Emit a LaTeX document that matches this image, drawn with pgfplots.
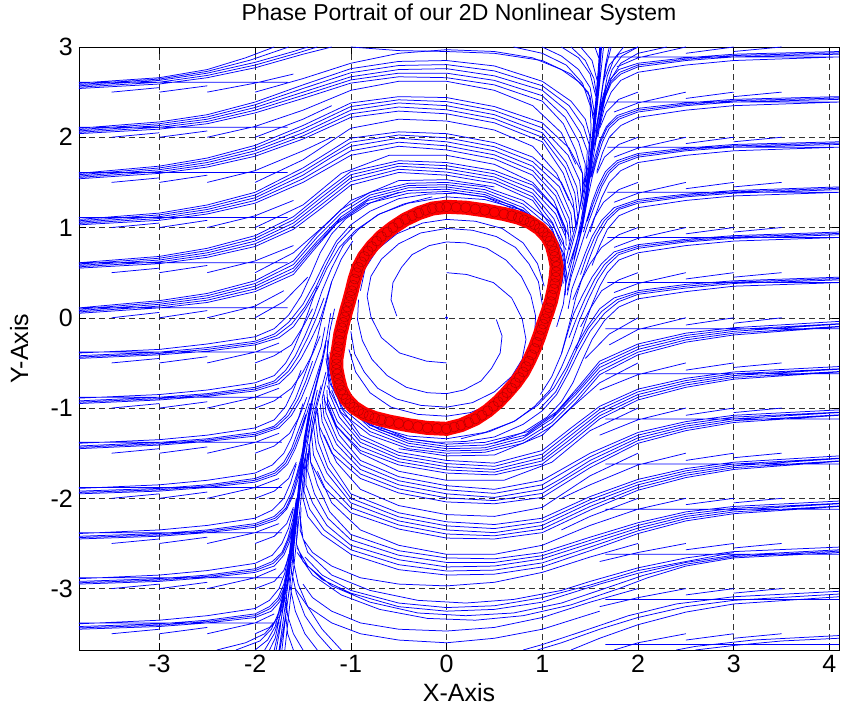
\documentclass[border=0pt]{standalone}
\usepackage{fontspec}
\setmainfont{Liberation Sans}
\usepackage{pgfplots}
\pgfplotsset{compat=1.18}
\usetikzlibrary{calc}
\pgfplotsset{traj/.style={blue, line width=0.75pt, mark=none}}
\begin{document}
\begin{tikzpicture}
\begin{axis}[
  width=760pt, height=603pt, scale only axis,
  xmin=-3.84, xmax=4.1, ymin=-3.68, ymax=3.0,
  xtick={-3,-2,-1,0,1,2,3,4}, xticklabels={-3,-2,-1,0,1,2,3,4},
  ytick={-3,-2,-1,0,1,2,3}, yticklabels={-3,-2,-1,0,1,2,3},
  tick align=inside, major tick length=7pt,
  tick style={black, line width=0.6pt},
  axis line style={black, line width=0.7pt},
  grid=major, major grid style={black!80, dash pattern=on 6pt off 4pt, line width=0.5pt},
  xticklabel style={font=\fontsize{25}{25}\selectfont, anchor=base, yshift=-23pt, inner sep=0pt},
  yticklabel style={font=\fontsize{25}{25}\selectfont, anchor=east, xshift=-6pt, inner sep=0pt},
  title={Phase Portrait of our 2D Nonlinear System},
  title style={at={(axis description cs:0.5,1.0332)}, anchor=base, font=\fontsize{23}{25}\selectfont, inner sep=0pt},
  xlabel={X-Axis},
  xlabel style={at={(axis description cs:0.5,-0.0846)}, anchor=base, font=\fontsize{25}{25}\selectfont, inner sep=0pt},
  ylabel={Y-Axis},
  ylabel style={at={(axis description cs:-0.067,0.5)}, anchor=base, font=\fontsize{25}{25}\selectfont, inner sep=0pt},
  unbounded coords=jump,
]
% ---------------- Family A (upper left) ----------------
\addplot[traj] coordinates {(-3.84,2.6)(-3,2.66)(-2.5,2.75)(-2.1,2.88)(-1.8,3) (nan,nan)
(-3.84,2.57)(-3,2.63)(-2.5,2.71)(-2,2.83)(-1.6,2.95)(-1.45,3) (nan,nan)
(-3.84,2.54)(-3,2.59)(-2.5,2.66)(-2,2.77)(-1.5,2.92)(-1.2,3) (nan,nan)
(-3.84,2.585)(-3,2.645)(-2.5,2.73)(-2.05,2.855)(-1.65,3) (nan,nan)
(-3.84,2.555)(-3,2.61)(-2.5,2.685)(-2,2.8)(-1.55,2.935)(-1.35,3) (nan,nan)
(-3.84,2.61)(-1.66,2.61) (nan,nan)
(-3.5,2.5)(-3,2.55) (nan,nan) (-3,2.5)(-2.5,2.57) (nan,nan) (-2.5,2.5)(-2,2.6)(-1.6,2.7) (nan,nan)
(-2,2.5)(-1.5,2.65)(-1,2.82)(-0.5,2.93)(0,2.97)(0.5,2.95)(0.9,2.88)(1.2,2.75)(1.4,2.6)(1.5,2.45)(1.53,2.2)};
\addplot[traj] coordinates {(-3.84,2.1)(-3,2.17)(-2.5,2.25)(-2,2.39)(-1.5,2.58)(-1,2.76)(-0.5,2.84)(0,2.85)(0.5,2.79)(1,2.62)(1.3,2.4)(1.45,2.2)(1.5,2)(1.49,1.8) (nan,nan)
(-3.84,2.07)(-3,2.13)(-2.5,2.2)(-2,2.33)(-1.5,2.5)(-1,2.67)(-0.5,2.75)(0,2.76)(0.5,2.68)(1,2.52)(1.25,2.3)(1.4,2.05)(1.47,1.85)(1.46,1.6)(1.43,1.4)(1.39,1.2)(1.35,1) (nan,nan)
(-3.84,2.04)(-3,2.09)(-2.5,2.15)(-2,2.27)(-1.5,2.43)(-1,2.6)(-0.5,2.67)(0,2.66)(0.5,2.58)(1,2.4)(1.22,2.15)(1.35,1.85)(1.42,1.6)(1.42,1.4)(1.38,1.15)(1.33,0.95)(1.28,0.75) (nan,nan)
(-3.84,2.085)(-3,2.15)(-2.5,2.225)(-2,2.36)(-1.5,2.54)(-1,2.715)(-0.5,2.795)(0,2.805)(0.5,2.735)(1,2.57)(1.28,2.35)(1.43,2.12)(1.49,1.92)(1.48,1.7)(1.45,1.5) (nan,nan)
(-3.84,2.055)(-3,2.11)(-2.5,2.175)(-2,2.3)(-1.5,2.465)(-1,2.635)(-0.5,2.71)(0,2.71)(0.5,2.63)(1,2.46)(1.24,2.22)(1.38,1.95)(1.45,1.7)(1.44,1.5) (nan,nan)
(-3.84,2.11)(-1.66,2.11) (nan,nan)
(-3.5,2)(-3,2.05) (nan,nan) (-3,2)(-2.5,2.07) (nan,nan)
(-2.5,2)(-2,2.12)(-1.5,2.3)(-1,2.52)(-0.5,2.62)(0,2.62)(0.5,2.52)(0.9,2.35)(1.2,2.05)(1.35,1.7) (nan,nan)
(-2,2)(-1.5,2.2)(-1.2,2.35)};
\addplot[traj] coordinates {(-3.84,1.6)(-3,1.68)(-2.5,1.77)(-2,1.91)(-1.5,2.13)(-1,2.38)(-0.5,2.45)(0,2.44)(0.5,2.34)(1,2.16)(1.28,1.88)(1.42,1.6)(1.44,1.4) (nan,nan)
(-3.84,1.57)(-3,1.64)(-2.5,1.72)(-2,1.85)(-1.5,2.05)(-1,2.3)(-0.5,2.38)(0,2.35)(0.5,2.25)(1,2.05)(1.25,1.72)(1.36,1.45)(1.39,1.2)(1.36,1)(1.31,0.8)(1.26,0.6) (nan,nan)
(-3.84,1.54)(-3,1.6)(-2.5,1.67)(-2,1.79)(-1.5,1.98)(-1,2.22)(-0.5,2.29)(0,2.26)(0.5,2.16)(1,1.95)(1.22,1.6)(1.32,1.3)(1.35,1.05) (nan,nan)
(-3.84,1.585)(-3,1.66)(-2.5,1.745)(-2,1.88)(-1.5,2.09)(-1,2.34)(-0.5,2.415)(0,2.395)(0.5,2.295)(1,2.105)(1.27,1.8)(1.39,1.52)(1.41,1.3) (nan,nan)
(-3.84,1.555)(-3,1.62)(-2.5,1.695)(-2,1.82)(-1.5,2.015)(-1,2.26)(-0.5,2.335)(0,2.305)(0.5,2.205)(1,2)(1.24,1.66)(1.34,1.38)(1.37,1.12) (nan,nan)
(-3.84,1.61)(-1.66,1.61) (nan,nan)
(-3.5,1.5)(-3,1.55) (nan,nan) (-3,1.5)(-2.5,1.58) (nan,nan) (-2.5,1.5)(-2,1.63)(-1.5,1.85)(-1.2,2) (nan,nan)
(-2,1.5)(-1.5,1.75)(-1,2.1)(-0.5,2.2)(0,2.18)(0.5,2.08)(0.9,1.9)(1.15,1.6)(1.28,1.3)};
\addplot[traj] coordinates {(-3.84,1.09)(-3,1.16)(-2.5,1.25)(-2,1.39)(-1.5,1.66)(-1,1.99)(-0.5,2.06)(0,2.04)(0.5,1.94)(0.9,1.78)(1.2,1.5)(1.33,1.2)(1.35,1) (nan,nan)
(-3.84,1.06)(-3,1.12)(-2.5,1.2)(-2,1.33)(-1.5,1.58)(-1.2,1.78)(-1,1.9)(-0.5,1.99)(0,1.95)(0.5,1.85)(0.9,1.68)(1.15,1.4)(1.28,1.1)(1.3,0.9)(1.26,0.7)(1.21,0.5) (nan,nan)
(-3.84,1.03)(-3,1.08)(-2.5,1.15)(-2,1.27)(-1.5,1.5)(-1,1.8)(-0.5,1.9)(0,1.86)(0.5,1.76)(0.9,1.58)(1.12,1.3)(1.24,1)(1.25,0.8) (nan,nan)
(-3.84,1.075)(-3,1.14)(-2.5,1.225)(-2,1.36)(-1.5,1.62)(-1,1.945)(-0.5,2.025)(0,1.995)(0.5,1.895)(0.9,1.73)(1.18,1.45)(1.3,1.15)(1.32,0.95) (nan,nan)
(-3.84,1.045)(-3,1.1)(-2.5,1.175)(-2,1.3)(-1.5,1.54)(-1,1.85)(-0.5,1.945)(0,1.905)(0.5,1.805)(0.9,1.63)(1.14,1.35)(1.26,1.05)(1.28,0.85) (nan,nan)
(-3.84,1.11)(-1.66,1.11) (nan,nan)
(-3.5,1)(-3,1.05) (nan,nan) (-3,1)(-2.5,1.08) (nan,nan) (-2.5,1)(-2,1.13)(-1.6,1.3) (nan,nan)
(-2,1)(-1.5,1.25)(-1.1,1.6)(-0.6,1.8)(0,1.8)(0.5,1.7)(0.9,1.5)(1.15,1.2)(1.24,0.95)};
\addplot[traj] coordinates {(-3.84,0.61)(-3,0.68)(-2.5,0.77)(-2,0.91)(-1.6,1.12)(-1.3,1.38)(-1,1.62)(-0.5,1.74)(0,1.72)(0.5,1.63)(0.9,1.47)(1.15,1.2)(1.28,0.9) (nan,nan)
(-3.84,0.58)(-3,0.64)(-2.5,0.72)(-2,0.85)(-1.6,1.05)(-1.3,1.3)(-1,1.55)(-0.5,1.68)(0,1.65)(0.5,1.56)(0.9,1.38)(1.12,1.1)(1.22,0.85)(1.24,0.6)(1.2,0.35) (nan,nan)
(-3.84,0.55)(-3,0.6)(-2.5,0.67)(-2,0.79)(-1.6,0.98)(-1.3,1.22)(-1,1.47)(-0.5,1.61)(0,1.58)(0.5,1.49)(0.9,1.3)(1.1,1)(1.18,0.75) (nan,nan)
(-3.84,0.595)(-3,0.66)(-2.5,0.745)(-2,0.88)(-1.6,1.085)(-1.3,1.34)(-1,1.585)(-0.5,1.71)(0,1.685)(0.5,1.595)(0.9,1.425)(1.14,1.15)(1.25,0.88) (nan,nan)
(-3.84,0.565)(-3,0.62)(-2.5,0.695)(-2,0.82)(-1.6,1.015)(-1.3,1.26)(-1,1.51)(-0.5,1.645)(0,1.615)(0.5,1.525)(0.9,1.34)(1.11,1.05)(1.2,0.8) (nan,nan)
(-3.84,0.61)(-1.66,0.61) (nan,nan)
(-3.5,0.5)(-3,0.55) (nan,nan) (-3,0.5)(-2.5,0.58) (nan,nan) (-2.5,0.5)(-2,0.63)(-1.6,0.8) (nan,nan)
(-2,0.5)(-1.6,0.72)(-1.3,1)(-1,1.3)(-0.5,1.52)(0,1.53)(0.5,1.45)};
\addplot[traj] coordinates {(-3.84,0.11)(-3,0.19)(-2.5,0.27)(-2,0.41)(-1.6,0.63)(-1.35,0.94)(-1.1,1.2)(-0.8,1.39)(-0.4,1.49)(0,1.5)(0.4,1.45)(0.8,1.3)(1.1,1.05)(1.25,0.75) (nan,nan)
(-3.84,0.08)(-3,0.15)(-2.5,0.22)(-2,0.35)(-1.6,0.55)(-1.35,0.85)(-1.1,1.12)(-0.8,1.33)(-0.4,1.44)(0,1.45)(0.4,1.39)(0.8,1.22)(1.05,0.97)(1.2,0.68)(1.25,0.42)(1.22,0.15)(1.15,-0.1) (nan,nan)
(-3.84,0.05)(-3,0.11)(-2.5,0.17)(-2,0.29)(-1.6,0.48)(-1.38,0.76)(-1.15,1.04)(-0.85,1.26)(-0.4,1.38)(0,1.4)(0.4,1.34)(0.8,1.16)(1.02,0.92)(1.16,0.62)(1.2,0.35) (nan,nan)
(-3.84,0.095)(-3,0.17)(-2.5,0.245)(-2,0.38)(-1.6,0.59)(-1.35,0.895)(-1.1,1.16)(-0.8,1.36)(-0.4,1.465)(0,1.475)(0.4,1.42)(0.8,1.26)(1.08,1.01)(1.22,0.72)(1.26,0.45) (nan,nan)
(-3.84,0.065)(-3,0.13)(-2.5,0.195)(-2,0.32)(-1.6,0.515)(-1.37,0.8)(-1.12,1.08)(-0.82,1.3)(-0.4,1.41)(0,1.425)(0.4,1.365)(0.8,1.19)(1.04,0.95)(1.18,0.65)(1.22,0.38) (nan,nan)
(-3.84,0.11)(-1.66,0.11) (nan,nan)
(-3.5,0)(-3,0.06) (nan,nan) (-3,0)(-2.5,0.08) (nan,nan) (-2.5,0)(-2,0.13)(-1.7,0.3) (nan,nan)
(-2,0)(-1.7,0.18)(-1.45,0.45)};
% ---------------- Family B (lower left) ----------------
\addplot[traj] coordinates {(-3.84,-0.39)(-3,-0.35)(-2.5,-0.29)(-2,-0.21)(-1.8,-0.12)(-1.65,0.03)(-1.52,0.24)(-1.42,0.47)(-1.32,0.72)(-1.2,0.93)(-1.05,1.1)(-0.8,1.27)(-0.5,1.39) (nan,nan)
(-3.84,-0.42)(-3,-0.38)(-2.5,-0.33)(-2,-0.26)(-1.8,-0.18)(-1.65,-0.05)(-1.5,0.15)(-1.38,0.38)(-1.27,0.62)(-1.15,0.85)(-1,1.03)(-0.8,1.18)(-0.5,1.32)(-0.2,1.37)(0.1,1.38)(0.4,1.34)(0.7,1.24)(0.95,1.07)(1.12,0.86)(1.21,0.63)(1.24,0.4) (nan,nan)
(-3.84,-0.45)(-3,-0.41)(-2.5,-0.37)(-2,-0.3)(-1.75,-0.22)(-1.6,-0.1)(-1.47,0.1)(-1.35,0.32)(-1.25,0.55)(-1.12,0.78)(-0.95,0.97)(-0.7,1.15)(-0.4,1.27)(0,1.34)(0.4,1.31)(0.8,1.19)(1.05,1)(1.2,0.75)(1.25,0.5)(1.24,0.25) (nan,nan)
(-3.84,-0.435)(-3,-0.395)(-2.5,-0.35)(-2,-0.28)(-1.78,-0.2)(-1.62,-0.07)(-1.48,0.12)(-1.36,0.35)(-1.26,0.58)(-1.14,0.82)(-0.98,1) (nan,nan)
(-3.84,-0.38)(-1.72,-0.38) (nan,nan)
(-3.5,-0.5)(-3,-0.45) (nan,nan) (-3,-0.5)(-2.5,-0.43) (nan,nan) (-2.5,-0.5)(-2,-0.38)(-1.75,-0.28) (nan,nan)
(-2,-0.5)(-1.8,-0.42)(-1.62,-0.3)(-1.5,-0.1)(-1.4,0.1)};
\addplot[traj] coordinates {(-3.84,-0.89)(-3,-0.85)(-2.5,-0.8)(-2,-0.72)(-1.8,-0.64)(-1.68,-0.5)(-1.6,-0.35)(-1.52,-0.15)(-1.44,0.08)(-1.35,0.35) (nan,nan)
(-3.84,-0.92)(-3,-0.88)(-2.5,-0.84)(-2,-0.77)(-1.8,-0.7)(-1.68,-0.58)(-1.58,-0.42)(-1.48,-0.2)(-1.38,0.05)(-1.3,0.3)(-1.2,0.55)(-1.08,0.8)(-0.92,0.98)(-0.72,1.14)(-0.45,1.26)(-0.15,1.34) (nan,nan)
(-3.84,-0.95)(-3,-0.91)(-2.5,-0.87)(-2,-0.81)(-1.75,-0.73)(-1.62,-0.6)(-1.52,-0.45)(-1.42,-0.25)(-1.33,-0.05)(-1.27,0.15)(-1.2,0.4)(-1.1,0.65)(-0.98,0.85) (nan,nan)
(-3.84,-0.935)(-3,-0.895)(-2.5,-0.855)(-2,-0.79)(-1.78,-0.715)(-1.65,-0.59)(-1.55,-0.43)(-1.45,-0.22)(-1.36,0)(-1.28,0.22) (nan,nan)
(-3.84,-0.88)(-1.72,-0.88) (nan,nan)
(-3.5,-1)(-3,-0.95) (nan,nan) (-3,-1)(-2.5,-0.93) (nan,nan) (-2.5,-1)(-2,-0.88)(-1.75,-0.78) (nan,nan)
(-2,-1)(-1.8,-0.92)(-1.62,-0.78)(-1.5,-0.6)(-1.4,-0.4)(-1.32,-0.2)};
\addplot[traj] coordinates {(-3.84,-1.39)(-3,-1.35)(-2.5,-1.3)(-2,-1.22)(-1.8,-1.13)(-1.68,-0.98)(-1.6,-0.8)(-1.52,-0.58) (nan,nan)
(-3.84,-1.42)(-3,-1.38)(-2.5,-1.34)(-2,-1.27)(-1.8,-1.2)(-1.68,-1.08)(-1.58,-0.9)(-1.5,-0.68)(-1.42,-0.45)(-1.35,-0.22)(-1.3,0)(-1.25,0.2)(-1.2,0.4) (nan,nan)
(-3.84,-1.45)(-3,-1.41)(-2.5,-1.37)(-2,-1.31)(-1.75,-1.22)(-1.62,-1.08)(-1.52,-0.9)(-1.45,-0.72)(-1.38,-0.52)(-1.31,-0.32)(-1.27,-0.1) (nan,nan)
(-3.84,-1.435)(-3,-1.395)(-2.5,-1.355)(-2,-1.29)(-1.78,-1.21)(-1.65,-1.08)(-1.55,-0.9)(-1.47,-0.7)(-1.4,-0.48) (nan,nan)
(-3.84,-1.38)(-1.72,-1.38) (nan,nan)
(-3.5,-1.5)(-3,-1.45) (nan,nan) (-3,-1.5)(-2.5,-1.43) (nan,nan) (-2.5,-1.5)(-2,-1.38)(-1.75,-1.28) (nan,nan)
(-2,-1.5)(-1.8,-1.42)(-1.64,-1.28)(-1.54,-1.1)(-1.46,-0.88)};
\addplot[traj] coordinates {(-3.84,-1.89)(-3,-1.85)(-2.5,-1.8)(-2,-1.72)(-1.82,-1.63)(-1.7,-1.5)(-1.62,-1.33)(-1.55,-1.12)(-1.5,-0.95) (nan,nan)
(-3.84,-1.92)(-3,-1.89)(-2.5,-1.85)(-2,-1.78)(-1.8,-1.7)(-1.7,-1.6)(-1.62,-1.45)(-1.55,-1.25)(-1.48,-1.05)(-1.42,-0.85)(-1.36,-0.65)(-1.3,-0.45)(-1.26,-0.25) (nan,nan)
(-3.84,-1.95)(-3,-1.92)(-2.5,-1.88)(-2,-1.82)(-1.78,-1.74)(-1.66,-1.62)(-1.58,-1.45)(-1.52,-1.28)(-1.47,-1.1)(-1.43,-0.95) (nan,nan)
(-3.84,-1.935)(-3,-1.905)(-2.5,-1.865)(-2,-1.8)(-1.79,-1.72)(-1.68,-1.61)(-1.6,-1.45)(-1.53,-1.26)(-1.47,-1.07) (nan,nan)
(-3.84,-1.88)(-1.72,-1.88) (nan,nan)
(-3.5,-2)(-3,-1.95) (nan,nan) (-3,-2)(-2.5,-1.93) (nan,nan) (-2.5,-2)(-2,-1.88)(-1.75,-1.78) (nan,nan)
(-2,-2)(-1.8,-1.92)(-1.65,-1.78)(-1.57,-1.6)};
\addplot[traj] coordinates {(-3.84,-2.39)(-3,-2.35)(-2.5,-2.3)(-2,-2.22)(-1.82,-2.13)(-1.7,-2)(-1.63,-1.83)(-1.57,-1.62) (nan,nan)
(-3.84,-2.42)(-3,-2.39)(-2.5,-2.35)(-2,-2.28)(-1.8,-2.2)(-1.7,-2.1)(-1.63,-1.95)(-1.57,-1.75)(-1.52,-1.55)(-1.48,-1.35)(-1.44,-1.15)(-1.4,-0.95) (nan,nan)
(-3.84,-2.45)(-3,-2.42)(-2.5,-2.38)(-2,-2.32)(-1.78,-2.24)(-1.67,-2.12)(-1.6,-1.96)(-1.55,-1.78)(-1.51,-1.6)(-1.47,-1.4)(-1.43,-1.2)(-1.39,-1)(-1.35,-0.8) (nan,nan)
(-3.84,-2.435)(-3,-2.405)(-2.5,-2.365)(-2,-2.3)(-1.79,-2.22)(-1.68,-2.11)(-1.61,-1.95)(-1.56,-1.76)(-1.51,-1.56) (nan,nan)
(-3.84,-2.38)(-1.72,-2.38) (nan,nan)
(-3.5,-2.5)(-3,-2.45) (nan,nan) (-3,-2.5)(-2.5,-2.43) (nan,nan) (-2.5,-2.5)(-2,-2.38)(-1.75,-2.28) (nan,nan)
(-2,-2.5)(-1.8,-2.42)(-1.67,-2.28)(-1.6,-2.1)};
\addplot[traj] coordinates {(-3.84,-2.89)(-3,-2.85)(-2.5,-2.8)(-2,-2.72)(-1.82,-2.63)(-1.72,-2.5)(-1.65,-2.33)(-1.6,-2.12) (nan,nan)
(-3.84,-2.92)(-3,-2.89)(-2.5,-2.85)(-2,-2.78)(-1.82,-2.7)(-1.72,-2.6)(-1.66,-2.45)(-1.61,-2.25)(-1.57,-2.05)(-1.53,-1.85)(-1.5,-1.65)(-1.46,-1.45) (nan,nan)
(-3.84,-2.95)(-3,-2.92)(-2.5,-2.88)(-2,-2.82)(-1.8,-2.75)(-1.7,-2.63)(-1.64,-2.48)(-1.6,-2.3)(-1.56,-2.1)(-1.53,-1.9)(-1.5,-1.7)(-1.47,-1.5)(-1.44,-1.3)(-1.41,-1.1) (nan,nan)
(-3.84,-2.935)(-3,-2.905)(-2.5,-2.865)(-2,-2.8)(-1.81,-2.72)(-1.71,-2.61)(-1.65,-2.46)(-1.6,-2.27)(-1.56,-2.07) (nan,nan)
(-3.84,-2.88)(-1.72,-2.88) (nan,nan)
(-3.5,-3)(-3,-2.95) (nan,nan) (-3,-3)(-2.5,-2.93) (nan,nan) (-2.5,-3)(-2,-2.88)(-1.78,-2.78) (nan,nan)
(-2,-3)(-1.8,-2.92)(-1.7,-2.8)(-1.64,-2.62)};
\addplot[traj] coordinates {(-3.84,-3.39)(-3,-3.35)(-2.5,-3.3)(-2,-3.22)(-1.85,-3.13)(-1.75,-3)(-1.69,-2.83)(-1.65,-2.62) (nan,nan)
(-3.84,-3.42)(-3,-3.39)(-2.5,-3.35)(-2,-3.28)(-1.85,-3.2)(-1.76,-3.1)(-1.7,-2.95)(-1.66,-2.75)(-1.62,-2.55)(-1.59,-2.35)(-1.56,-2.15)(-1.53,-1.95) (nan,nan)
(-3.84,-3.45)(-3,-3.42)(-2.5,-3.38)(-2,-3.32)(-1.83,-3.25)(-1.74,-3.14)(-1.69,-3)(-1.65,-2.8)(-1.62,-2.6)(-1.59,-2.4)(-1.56,-2.2) (nan,nan)
(-3.84,-3.435)(-3,-3.405)(-2.5,-3.365)(-2,-3.3)(-1.84,-3.22)(-1.75,-3.12)(-1.69,-2.97)(-1.65,-2.77)(-1.61,-2.57) (nan,nan)
(-3.84,-3.38)(-1.74,-3.38) (nan,nan)
(-3.5,-3.5)(-3,-3.45) (nan,nan) (-3,-3.5)(-2.5,-3.43) (nan,nan) (-2.5,-3.5)(-2,-3.38)(-1.8,-3.28) (nan,nan)
(-2,-3.5)(-1.85,-3.43)(-1.74,-3.3)(-1.69,-3.12)};
% lower separatrix bundle
\addplot[traj] coordinates {(-2.4,-3.68)(-2.1,-3.6)(-1.9,-3.5)(-1.8,-3.38)(-1.73,-3.2)(-1.68,-3)(-1.64,-2.8)(-1.61,-2.6) (nan,nan)
(-2.2,-3.68)(-1.95,-3.58)(-1.83,-3.45)(-1.76,-3.28)(-1.71,-3.08)(-1.67,-2.85) (nan,nan)
(-2,-3.68)(-1.87,-3.57)(-1.79,-3.42)(-1.74,-3.22)(-1.7,-3)(-1.66,-2.75)(-1.63,-2.5)(-1.6,-2.25)(-1.57,-2) (nan,nan)
(-1.85,-3.68)(-1.79,-3.55)(-1.75,-3.35)(-1.72,-3.15)(-1.69,-2.95) (nan,nan)
(-1.78,-3.68)(-1.74,-3.45)(-1.71,-3.2)(-1.68,-2.9)(-1.64,-2.6)(-1.6,-2.3)(-1.56,-2)(-1.52,-1.7)(-1.48,-1.4)(-1.44,-1.1)(-1.39,-0.85)(-1.33,-0.6)(-1.28,-0.4) (nan,nan)
(-1.2,-3.68)(-1.35,-3.5)(-1.48,-3.3)(-1.57,-3.05)(-1.62,-2.8) (nan,nan)
(-1.35,-3.68)(-1.48,-3.5)(-1.58,-3.25)(-1.63,-3)(-1.65,-2.8) (nan,nan)
(-1.5,-3.68)(-1.6,-3.5)(-1.66,-3.3)(-1.68,-3.1) (nan,nan)
(-1.72,-3.68)(-1.68,-3.3)(-1.63,-2.9)(-1.59,-2.5)(-1.55,-2.1)(-1.51,-1.7)(-1.47,-1.3)(-1.42,-1)(-1.36,-0.75)(-1.3,-0.5)(-1.26,-0.3) (nan,nan)
(-1.69,-3.68)(-1.66,-3.4)(-1.62,-3)(-1.58,-2.6)(-1.54,-2.2)(-1.5,-1.8)(-1.46,-1.45) (nan,nan)
(-1.8,-3.68)(-1.72,-3.3)(-1.66,-2.9)(-1.61,-2.5)(-1.57,-2.1)(-1.53,-1.7)(-1.49,-1.35)(-1.44,-1.05)(-1.38,-0.8)(-1.32,-0.55) (nan,nan)
(-1.75,-3.68)(-1.7,-3.3)(-1.65,-2.9)(-1.6,-2.5)(-1.56,-2.1)(-1.52,-1.75)(-1.48,-1.4)(-1.43,-1.1) (nan,nan)
(-1.74,-3.68)(-1.69,-3.35)(-1.64,-3)(-1.6,-2.6)(-1.56,-2.2)(-1.52,-1.8)(-1.49,-1.5)(-1.45,-1.2)(-1.41,-0.95)(-1.35,-0.7)(-1.29,-0.45)(-1.25,-0.2)(-1.21,0.05) (nan,nan)
(-1.9,-3.68)(-1.8,-3.5)(-1.74,-3.3)(-1.7,-3.05)(-1.66,-2.8)(-1.62,-2.5)(-1.58,-2.2)(-1.55,-1.9) (nan,nan)
(-1.6,-3.68)(-1.66,-3.5)(-1.68,-3.3)(-1.67,-3.05)(-1.63,-2.75)(-1.6,-2.45)(-1.57,-2.15)(-1.54,-1.85)(-1.51,-1.55)(-1.47,-1.25)(-1.42,-0.95) (nan,nan)
(-1.1,-3.68)(-1.3,-3.45)(-1.45,-3.2)(-1.55,-2.95)(-1.6,-2.7)(-1.6,-2.45)};
% ---------------- Family D (lower right) ----------------
\addplot[traj] coordinates {(4.1,-2.6)(3,-2.66)(2.5,-2.75)(2.1,-2.88)(1.8,-3)(1.3,-3.18)(0.8,-3.3)(0.3,-3.35)(-0.2,-3.33)(-0.7,-3.23)(-1.1,-3.07)(-1.4,-2.85)(-1.56,-2.6) (nan,nan)
(4.1,-2.57)(3,-2.63)(2.5,-2.71)(2,-2.83)(1.6,-2.95)(1.45,-3)(1,-3.15)(0.5,-3.23)(0,-3.25)(-0.5,-3.2)(-1,-3.05)(-1.3,-2.9)(-1.5,-2.7)(-1.57,-2.5)(-1.55,-2.2) (nan,nan)
(4.1,-2.54)(3,-2.59)(2.5,-2.66)(2,-2.77)(1.5,-2.92)(1.2,-3.02)(0.7,-3.12)(0.2,-3.16)(-0.3,-3.13)(-0.8,-3.02)(-1.2,-2.85)(-1.45,-2.6)(-1.53,-2.35)(-1.52,-2.1) (nan,nan)
(4.1,-2.585)(3,-2.645)(2.5,-2.73)(2.05,-2.855)(1.65,-3)(1.2,-3.16)(0.7,-3.27)(0.2,-3.3)(-0.3,-3.27)(-0.8,-3.15)(-1.2,-2.97)(-1.45,-2.75)(-1.56,-2.55) (nan,nan)
(4.1,-2.62)(1.66,-2.62) (nan,nan)
(3.5,-2.5)(3,-2.55) (nan,nan) (3,-2.5)(2.5,-2.57) (nan,nan) (2.5,-2.5)(2,-2.6)(1.6,-2.7) (nan,nan)
(2,-2.5)(1.5,-2.65)(1,-2.82)(0.5,-2.93)(0,-2.97)(-0.5,-2.95)(-0.9,-2.88)(-1.2,-2.75)(-1.4,-2.6)(-1.5,-2.45)(-1.53,-2.2)};
\addplot[traj] coordinates {(4.1,-3.06)(3,-3.13)(2.5,-3.2)(2,-3.32)(1.6,-3.45)(1.2,-3.6)(0.95,-3.68) (nan,nan)
(4.1,-3.03)(3,-3.09)(2.4,-3.17)(1.9,-3.3)(1.4,-3.48)(1,-3.62)(0.8,-3.68) (nan,nan)
(4.1,-3.09)(3,-3.17)(2.5,-3.26)(2,-3.4)(1.6,-3.55)(1.3,-3.68) (nan,nan)
(4.1,-3.12)(1.66,-3.12) (nan,nan)
(3.5,-3)(3,-3.05) (nan,nan) (3,-3)(2.5,-3.07) (nan,nan) (2.5,-3)(2,-3.1)(1.6,-3.2) (nan,nan)
(2,-3)(1.5,-3.15)(1,-3.32)(0.5,-3.43)(0,-3.47)(-0.5,-3.45)(-0.9,-3.38)(-1.2,-3.25)(-1.4,-3.1)(-1.5,-2.95) (nan,nan)
(1.6,-3.25)(1,-3.45)(0.5,-3.55)(0,-3.6)(-0.5,-3.57)(-0.9,-3.5)(-1.2,-3.38)(-1.45,-3.2)(-1.58,-3) (nan,nan)
(3,-2.6)(2,-2.8)(1.5,-2.96)(1,-3.1)(0.5,-3.19)(0,-3.21)(-0.5,-3.16)(-1,-3.02)(-1.3,-2.85)(-1.48,-2.65) (nan,nan)
(4.1,-3.55)(3.5,-3.58)(3,-3.63)(2.6,-3.68) (nan,nan)
(4.1,-3.52)(3.2,-3.57)(2.6,-3.64)(2.4,-3.68) (nan,nan)
(4.1,-3.62)(1.66,-3.62) (nan,nan)
(3.5,-3.5)(3,-3.55) (nan,nan) (3,-3.5)(2.5,-3.57) (nan,nan) (2.5,-3.5)(2,-3.6)(1.75,-3.68)};
\addplot[traj] coordinates {(4.1,-2.09)(3,-2.17)(2.5,-2.25)(2,-2.39)(1.5,-2.58)(1,-2.76)(0.5,-2.84)(0,-2.85)(-0.5,-2.79)(-1,-2.62)(-1.3,-2.4)(-1.45,-2.2)(-1.5,-2)(-1.5,-1.8) (nan,nan)
(4.1,-2.06)(3,-2.13)(2.5,-2.2)(2,-2.33)(1.5,-2.5)(1,-2.67)(0.5,-2.75)(0,-2.76)(-0.5,-2.68)(-1,-2.52)(-1.25,-2.3)(-1.4,-2.05)(-1.47,-1.85)(-1.46,-1.6)(-1.43,-1.4)(-1.39,-1.2)(-1.35,-1) (nan,nan)
(4.1,-2.03)(3,-2.09)(2.5,-2.15)(2,-2.27)(1.5,-2.43)(1,-2.6)(0.5,-2.67)(0,-2.66)(-0.5,-2.58)(-1,-2.4)(-1.22,-2.15)(-1.35,-1.85)(-1.42,-1.6)(-1.43,-1.4)(-1.4,-1.15)(-1.36,-0.95)(-1.31,-0.75) (nan,nan)
(4.1,-2.085)(3,-2.15)(2.5,-2.225)(2,-2.36)(1.5,-2.54)(1,-2.715)(0.5,-2.795)(0,-2.805)(-0.5,-2.735)(-1,-2.57)(-1.28,-2.35)(-1.43,-2.12)(-1.49,-1.92)(-1.48,-1.7)(-1.45,-1.5) (nan,nan)
(4.1,-2.055)(3,-2.11)(2.5,-2.175)(2,-2.3)(1.5,-2.465)(1,-2.635)(0.5,-2.71)(0,-2.71)(-0.5,-2.63)(-1,-2.46)(-1.24,-2.22)(-1.38,-1.95)(-1.45,-1.7)(-1.44,-1.5) (nan,nan)
(4.1,-2.12)(1.66,-2.12) (nan,nan)
(3.5,-2)(3,-2.05) (nan,nan) (3,-2)(2.5,-2.07) (nan,nan)
(2.5,-2)(2,-2.12)(1.5,-2.3)(1,-2.52)(0.5,-2.62)(0,-2.62)(-0.5,-2.52)(-0.9,-2.35)(-1.2,-2.05)(-1.35,-1.7) (nan,nan)
(2,-2)(1.5,-2.2)(1.2,-2.35)};
\addplot[traj] coordinates {(4.1,-1.59)(3,-1.68)(2.5,-1.77)(2,-1.91)(1.5,-2.13)(1,-2.38)(0.5,-2.45)(0,-2.44)(-0.5,-2.34)(-1,-2.16)(-1.28,-1.88)(-1.42,-1.6)(-1.44,-1.4) (nan,nan)
(4.1,-1.56)(3,-1.64)(2.5,-1.72)(2,-1.85)(1.5,-2.05)(1,-2.3)(0.5,-2.38)(0,-2.35)(-0.5,-2.25)(-1,-2.05)(-1.25,-1.72)(-1.36,-1.45)(-1.39,-1.2)(-1.36,-1)(-1.31,-0.8)(-1.26,-0.6) (nan,nan)
(4.1,-1.53)(3,-1.6)(2.5,-1.67)(2,-1.79)(1.5,-1.98)(1,-2.22)(0.5,-2.29)(0,-2.26)(-0.5,-2.16)(-1,-1.95)(-1.22,-1.6)(-1.32,-1.3)(-1.35,-1.05) (nan,nan)
(4.1,-1.585)(3,-1.66)(2.5,-1.745)(2,-1.88)(1.5,-2.09)(1,-2.34)(0.5,-2.415)(0,-2.395)(-0.5,-2.295)(-1,-2.105)(-1.27,-1.8)(-1.39,-1.52)(-1.41,-1.3) (nan,nan)
(4.1,-1.555)(3,-1.62)(2.5,-1.695)(2,-1.82)(1.5,-2.015)(1,-2.26)(0.5,-2.335)(0,-2.305)(-0.5,-2.205)(-1,-2)(-1.24,-1.66)(-1.34,-1.38)(-1.37,-1.12) (nan,nan)
(4.1,-1.62)(1.66,-1.62) (nan,nan)
(3.5,-1.5)(3,-1.55) (nan,nan) (3,-1.5)(2.5,-1.58) (nan,nan) (2.5,-1.5)(2,-1.63)(1.5,-1.85)(1.2,-2) (nan,nan)
(2,-1.5)(1.5,-1.75)(1,-2.1)(0.5,-2.2)(0,-2.18)(-0.5,-2.08)(-0.9,-1.9)(-1.15,-1.6)(-1.28,-1.3)};
\addplot[traj] coordinates {(4.1,-1.08)(3,-1.16)(2.5,-1.25)(2,-1.39)(1.5,-1.66)(1,-1.99)(0.5,-2.06)(0,-2.04)(-0.5,-1.94)(-0.9,-1.78)(-1.2,-1.5)(-1.33,-1.2)(-1.35,-1) (nan,nan)
(4.1,-1.05)(3,-1.12)(2.5,-1.2)(2,-1.33)(1.5,-1.58)(1.2,-1.78)(1,-1.9)(0.5,-1.99)(0,-1.95)(-0.5,-1.85)(-0.9,-1.68)(-1.15,-1.4)(-1.28,-1.1)(-1.3,-0.9)(-1.26,-0.7)(-1.21,-0.5) (nan,nan)
(4.1,-1.02)(3,-1.08)(2.5,-1.15)(2,-1.27)(1.5,-1.5)(1,-1.8)(0.5,-1.9)(0,-1.86)(-0.5,-1.76)(-0.9,-1.58)(-1.12,-1.3)(-1.24,-1)(-1.25,-0.8) (nan,nan)
(4.1,-1.075)(3,-1.14)(2.5,-1.225)(2,-1.36)(1.5,-1.62)(1,-1.945)(0.5,-2.025)(0,-1.995)(-0.5,-1.895)(-0.9,-1.73)(-1.18,-1.45)(-1.3,-1.15)(-1.32,-0.95) (nan,nan)
(4.1,-1.045)(3,-1.1)(2.5,-1.175)(2,-1.3)(1.5,-1.54)(1,-1.85)(0.5,-1.945)(0,-1.905)(-0.5,-1.805)(-0.9,-1.63)(-1.14,-1.35)(-1.26,-1.05)(-1.28,-0.85) (nan,nan)
(4.1,-1.12)(1.66,-1.12) (nan,nan)
(3.5,-1)(3,-1.05) (nan,nan) (3,-1)(2.5,-1.08) (nan,nan) (2.5,-1)(2,-1.13)(1.6,-1.3) (nan,nan)
(2,-1)(1.5,-1.25)(1.1,-1.6)(0.6,-1.8)(0,-1.8)(-0.5,-1.7)(-0.9,-1.5)(-1.15,-1.2)(-1.24,-0.95)};
\addplot[traj] coordinates {(4.1,-0.6)(3,-0.68)(2.5,-0.77)(2,-0.91)(1.6,-1.12)(1.3,-1.38)(1,-1.62)(0.5,-1.74)(0,-1.72)(-0.5,-1.63)(-0.9,-1.47)(-1.15,-1.2)(-1.28,-0.9) (nan,nan)
(4.1,-0.57)(3,-0.64)(2.5,-0.72)(2,-0.85)(1.6,-1.05)(1.3,-1.3)(1,-1.55)(0.5,-1.68)(0,-1.65)(-0.5,-1.56)(-0.9,-1.38)(-1.12,-1.1)(-1.22,-0.85)(-1.24,-0.6)(-1.2,-0.35) (nan,nan)
(4.1,-0.54)(3,-0.6)(2.5,-0.67)(2,-0.79)(1.6,-0.98)(1.3,-1.22)(1,-1.47)(0.5,-1.61)(0,-1.58)(-0.5,-1.49)(-0.9,-1.3)(-1.1,-1)(-1.18,-0.75) (nan,nan)
(4.1,-0.595)(3,-0.66)(2.5,-0.745)(2,-0.88)(1.6,-1.085)(1.3,-1.34)(1,-1.585)(0.5,-1.71)(0,-1.685)(-0.5,-1.595)(-0.9,-1.425)(-1.14,-1.15)(-1.25,-0.88) (nan,nan)
(4.1,-0.565)(3,-0.62)(2.5,-0.695)(2,-0.82)(1.6,-1.015)(1.3,-1.26)(1,-1.51)(0.5,-1.645)(0,-1.615)(-0.5,-1.525)(-0.9,-1.34)(-1.11,-1.05)(-1.2,-0.8) (nan,nan)
(4.1,-0.62)(1.66,-0.62) (nan,nan)
(3.5,-0.5)(3,-0.55) (nan,nan) (3,-0.5)(2.5,-0.58) (nan,nan) (2.5,-0.5)(2,-0.63)(1.6,-0.8) (nan,nan)
(2,-0.5)(1.6,-0.72)(1.3,-1)(1,-1.3)(0.5,-1.52)(0,-1.53)(-0.5,-1.45)};
\addplot[traj] coordinates {(4.1,-0.1)(3,-0.19)(2.5,-0.27)(2,-0.41)(1.6,-0.63)(1.35,-0.94)(1.1,-1.2)(0.8,-1.39)(0.4,-1.49)(0,-1.5)(-0.4,-1.45)(-0.8,-1.3)(-1.1,-1.05)(-1.25,-0.75) (nan,nan)
(4.1,-0.07)(3,-0.15)(2.5,-0.22)(2,-0.35)(1.6,-0.55)(1.35,-0.85)(1.1,-1.12)(0.8,-1.33)(0.4,-1.44)(0,-1.45)(-0.4,-1.39)(-0.8,-1.22)(-1.05,-0.97)(-1.2,-0.68)(-1.25,-0.42)(-1.22,-0.15)(-1.17,0.1) (nan,nan)
(4.1,-0.04)(3,-0.11)(2.5,-0.17)(2,-0.29)(1.6,-0.48)(1.38,-0.76)(1.15,-1.04)(0.85,-1.26)(0.4,-1.38)(0,-1.4)(-0.4,-1.34)(-0.8,-1.16)(-1.02,-0.92)(-1.16,-0.62)(-1.2,-0.35) (nan,nan)
(4.1,-0.095)(3,-0.17)(2.5,-0.245)(2,-0.38)(1.6,-0.59)(1.35,-0.895)(1.1,-1.16)(0.8,-1.36)(0.4,-1.465)(0,-1.475)(-0.4,-1.42)(-0.8,-1.26)(-1.08,-1.01)(-1.22,-0.72)(-1.26,-0.45) (nan,nan)
(4.1,-0.065)(3,-0.13)(2.5,-0.195)(2,-0.32)(1.6,-0.515)(1.37,-0.8)(1.12,-1.08)(0.82,-1.3)(0.4,-1.41)(0,-1.425)(-0.4,-1.365)(-0.8,-1.19)(-1.04,-0.95)(-1.18,-0.65)(-1.22,-0.38) (nan,nan)
(4.1,-0.12)(1.66,-0.12) (nan,nan)
(3.5,0)(3,-0.06) (nan,nan) (3,0)(2.5,-0.08) (nan,nan) (2.5,0)(2,-0.13)(1.7,-0.3) (nan,nan)
(2,0)(1.7,-0.18)(1.45,-0.45)};
% ---------------- Family C (upper right) ----------------
\addplot[traj] coordinates {(4.1,0.39)(3,0.35)(2.5,0.29)(2,0.21)(1.8,0.12)(1.65,-0.03)(1.52,-0.24)(1.42,-0.47)(1.32,-0.72)(1.2,-0.93)(1.05,-1.1)(0.8,-1.27)(0.5,-1.39) (nan,nan)
(4.1,0.42)(3,0.38)(2.5,0.33)(2,0.26)(1.8,0.18)(1.65,0.05)(1.5,-0.15)(1.38,-0.38)(1.27,-0.62)(1.15,-0.85)(1,-1.03)(0.8,-1.18)(0.5,-1.32)(0.2,-1.37)(-0.1,-1.38)(-0.4,-1.34)(-0.7,-1.24)(-0.95,-1.07)(-1.12,-0.86)(-1.21,-0.63)(-1.24,-0.4) (nan,nan)
(4.1,0.45)(3,0.41)(2.5,0.37)(2,0.3)(1.75,0.22)(1.6,0.1)(1.47,-0.1)(1.35,-0.32)(1.25,-0.55)(1.12,-0.78)(0.95,-0.97)(0.7,-1.15)(0.4,-1.27)(0,-1.34)(-0.4,-1.31)(-0.8,-1.19)(-1.05,-1)(-1.2,-0.75)(-1.25,-0.5)(-1.24,-0.25) (nan,nan)
(4.1,0.435)(3,0.395)(2.5,0.35)(2,0.28)(1.78,0.2)(1.62,0.07)(1.48,-0.12)(1.36,-0.35)(1.26,-0.58)(1.14,-0.82)(0.98,-1) (nan,nan)
(4.1,0.39)(1.68,0.39) (nan,nan)
(3.5,0.5)(3,0.45) (nan,nan) (3,0.5)(2.5,0.43) (nan,nan) (2.5,0.5)(2,0.38)(1.75,0.28) (nan,nan)
(2,0.5)(1.8,0.42)(1.62,0.3)(1.5,0.1)(1.4,-0.1)};
\addplot[traj] coordinates {(4.1,0.89)(3,0.85)(2.5,0.8)(2,0.72)(1.8,0.64)(1.68,0.5)(1.6,0.35)(1.52,0.15)(1.44,-0.08)(1.35,-0.35) (nan,nan)
(4.1,0.92)(3,0.88)(2.5,0.84)(2,0.77)(1.8,0.7)(1.68,0.58)(1.58,0.42)(1.48,0.2)(1.38,-0.05)(1.3,-0.3)(1.2,-0.55)(1.08,-0.8)(0.92,-0.98)(0.72,-1.14)(0.45,-1.26)(0.15,-1.34) (nan,nan)
(4.1,0.95)(3,0.91)(2.5,0.87)(2,0.81)(1.75,0.73)(1.62,0.6)(1.52,0.45)(1.42,0.25)(1.33,0.05)(1.27,-0.15)(1.2,-0.4)(1.1,-0.65)(0.98,-0.85) (nan,nan)
(4.1,0.935)(3,0.895)(2.5,0.855)(2,0.79)(1.78,0.715)(1.65,0.59)(1.55,0.43)(1.45,0.22)(1.36,0)(1.28,-0.22) (nan,nan)
(4.1,0.89)(1.68,0.89) (nan,nan)
(3.5,1)(3,0.95) (nan,nan) (3,1)(2.5,0.93) (nan,nan) (2.5,1)(2,0.88)(1.75,0.78) (nan,nan)
(2,1)(1.8,0.92)(1.62,0.78)(1.5,0.6)(1.4,0.4)(1.32,0.2)};
\addplot[traj] coordinates {(4.1,1.39)(3,1.35)(2.5,1.3)(2,1.22)(1.8,1.13)(1.68,0.98)(1.6,0.8)(1.52,0.58) (nan,nan)
(4.1,1.42)(3,1.38)(2.5,1.34)(2,1.27)(1.8,1.2)(1.68,1.08)(1.58,0.9)(1.5,0.68)(1.42,0.45)(1.35,0.22)(1.3,0)(1.25,-0.2)(1.2,-0.4) (nan,nan)
(4.1,1.45)(3,1.41)(2.5,1.37)(2,1.31)(1.75,1.22)(1.62,1.08)(1.52,0.9)(1.45,0.72)(1.38,0.52)(1.31,0.32)(1.27,0.1) (nan,nan)
(4.1,1.435)(3,1.395)(2.5,1.355)(2,1.29)(1.78,1.21)(1.65,1.08)(1.55,0.9)(1.47,0.7)(1.4,0.48) (nan,nan)
(4.1,1.39)(1.68,1.39) (nan,nan)
(3.5,1.5)(3,1.45) (nan,nan) (3,1.5)(2.5,1.43) (nan,nan) (2.5,1.5)(2,1.38)(1.75,1.28) (nan,nan)
(2,1.5)(1.8,1.42)(1.64,1.28)(1.54,1.1)(1.46,0.88)};
\addplot[traj] coordinates {(4.1,1.89)(3,1.85)(2.5,1.8)(2,1.72)(1.82,1.63)(1.7,1.5)(1.62,1.33)(1.55,1.12)(1.5,0.95) (nan,nan)
(4.1,1.92)(3,1.89)(2.5,1.85)(2,1.78)(1.8,1.7)(1.7,1.6)(1.62,1.45)(1.55,1.25)(1.48,1.05)(1.42,0.85)(1.36,0.65)(1.3,0.45)(1.26,0.25) (nan,nan)
(4.1,1.95)(3,1.92)(2.5,1.88)(2,1.82)(1.78,1.74)(1.66,1.62)(1.58,1.45)(1.52,1.28)(1.47,1.1)(1.43,0.95) (nan,nan)
(4.1,1.935)(3,1.905)(2.5,1.865)(2,1.8)(1.79,1.72)(1.68,1.61)(1.6,1.45)(1.53,1.26)(1.47,1.07) (nan,nan)
(4.1,1.89)(1.68,1.89) (nan,nan)
(3.5,2)(3,1.95) (nan,nan) (3,2)(2.5,1.93) (nan,nan) (2.5,2)(2,1.88)(1.75,1.78) (nan,nan)
(2,2)(1.8,1.92)(1.65,1.78)(1.57,1.6)};
\addplot[traj] coordinates {(4.1,2.39)(3,2.35)(2.5,2.3)(2,2.22)(1.82,2.13)(1.7,2)(1.63,1.83)(1.57,1.62) (nan,nan)
(4.1,2.42)(3,2.39)(2.5,2.35)(2,2.28)(1.8,2.2)(1.7,2.1)(1.63,1.95)(1.57,1.75)(1.52,1.55)(1.48,1.35)(1.44,1.15)(1.4,0.95) (nan,nan)
(4.1,2.45)(3,2.42)(2.5,2.38)(2,2.32)(1.78,2.24)(1.67,2.12)(1.6,1.96)(1.55,1.78)(1.51,1.6)(1.47,1.4)(1.43,1.2)(1.39,1)(1.35,0.8) (nan,nan)
(4.1,2.435)(3,2.405)(2.5,2.365)(2,2.3)(1.79,2.22)(1.68,2.11)(1.61,1.95)(1.56,1.76)(1.51,1.56) (nan,nan)
(4.1,2.39)(1.68,2.39) (nan,nan)
(3.5,2.5)(3,2.45) (nan,nan) (3,2.5)(2.5,2.43) (nan,nan) (2.5,2.5)(2,2.38)(1.75,2.28) (nan,nan)
(2,2.5)(1.8,2.42)(1.67,2.28)(1.6,2.1)};
\addplot[traj] coordinates {(4.1,2.89)(3,2.85)(2.5,2.8)(2,2.72)(1.82,2.63)(1.72,2.5)(1.65,2.33)(1.6,2.12) (nan,nan)
(4.1,2.92)(3,2.89)(2.5,2.85)(2,2.78)(1.82,2.7)(1.72,2.6)(1.66,2.45)(1.61,2.25)(1.57,2.05)(1.53,1.85)(1.5,1.65)(1.46,1.45) (nan,nan)
(4.1,2.95)(3,2.92)(2.5,2.88)(2,2.82)(1.8,2.75)(1.7,2.63)(1.64,2.48)(1.6,2.3)(1.56,2.1)(1.53,1.9)(1.5,1.7)(1.47,1.5)(1.44,1.3)(1.41,1.1) (nan,nan)
(4.1,2.935)(3,2.905)(2.5,2.865)(2,2.8)(1.81,2.72)(1.71,2.61)(1.65,2.46)(1.6,2.27)(1.56,2.07) (nan,nan)
(4.1,2.89)(1.68,2.89) (nan,nan)
(3.5,3)(3,2.95) (nan,nan) (3,3)(2.5,2.93) (nan,nan) (2.5,3)(2,2.88)(1.78,2.78) (nan,nan)
(2,3)(1.8,2.92)(1.7,2.8)(1.64,2.62)};
% upper separatrix bundle
\addplot[traj] coordinates {(2.3,3)(2,2.93)(1.82,2.82)(1.72,2.65)(1.66,2.45)(1.62,2.25)(1.58,2) (nan,nan)
(2,3)(1.83,2.9)(1.73,2.75)(1.67,2.55)(1.63,2.35)(1.6,2.15) (nan,nan)
(1.85,3)(1.75,2.87)(1.68,2.68)(1.64,2.45)(1.6,2.2)(1.56,1.95)(1.52,1.7)(1.48,1.45)(1.44,1.2)(1.39,0.95)(1.33,0.75)(1.27,0.55) (nan,nan)
(1.72,3)(1.67,2.8)(1.63,2.55)(1.6,2.3) (nan,nan)
(1,3)(1.2,2.9)(1.38,2.75)(1.5,2.55)(1.54,2.3)(1.53,2.05) (nan,nan)
(1.2,3)(1.38,2.88)(1.5,2.7)(1.56,2.45)(1.56,2.2)(1.53,1.95)(1.49,1.7)(1.45,1.45)(1.41,1.2) (nan,nan)
(1.4,3)(1.52,2.85)(1.58,2.6)(1.57,2.35) (nan,nan)
(0.7,3)(1,2.93)(1.25,2.8)(1.42,2.6)(1.5,2.35)(1.51,2.1)(1.49,1.85) (nan,nan)
(1.64,3)(1.63,2.9)(1.59,2.5)(1.55,2.1)(1.51,1.7)(1.47,1.3)(1.42,1)(1.36,0.75)(1.3,0.5)(1.26,0.3) (nan,nan)
(1.62,3)(1.58,2.6)(1.54,2.2)(1.5,1.8)(1.46,1.45) (nan,nan)
(1.62,3)(1.59,2.6)(1.555,2.2)(1.52,1.8)(1.48,1.45)(1.44,1.15)(1.39,0.9)(1.33,0.65) (nan,nan)
(1.6,3)(1.575,2.6)(1.545,2.2)(1.515,1.85)(1.475,1.5)(1.43,1.2) (nan,nan)
(1.61,3)(1.58,2.7)(1.55,2.3)(1.52,1.95)(1.49,1.6)(1.455,1.3)(1.41,1.05)(1.35,0.8)(1.29,0.55)(1.24,0.35) (nan,nan)
(1.7,3)(1.66,2.8)(1.62,2.5)(1.58,2.2)(1.55,1.9) (nan,nan)
(1.55,3)(1.6,2.85)(1.6,2.6)(1.57,2.3)(1.54,2)(1.51,1.7)(1.47,1.4)(1.42,1.1) (nan,nan)
(1.3,3)(1.45,2.85)(1.54,2.65)(1.57,2.45) (nan,nan)
(-1,3)(-0.5,2.96)(0,2.95)(0.5,2.93)(1,2.85)(1.3,2.7)(1.48,2.5)(1.53,2.25)};
% ---------------- interior spirals ----------------
\addplot[traj] coordinates {(-0.52,0.02)(-0.58,0.2)(-0.56,0.39)(-0.47,0.56)(-0.36,0.7)(-0.18,0.8)(0,0.84)(0.2,0.83)(0.42,0.77)(0.62,0.64)(0.78,0.46)(0.88,0.25)(0.93,0.02)(0.92,-0.2) (nan,nan)
(0.52,-0.02)(0.58,-0.2)(0.56,-0.39)(0.47,-0.56)(0.36,-0.7)(0.18,-0.8)(0,-0.84)(-0.2,-0.83)(-0.42,-0.77)(-0.62,-0.64)(-0.78,-0.46)(-0.88,-0.25)(-0.93,-0.02)(-0.92,0.2) (nan,nan)
(0,0.5)(0.21,0.48)(0.49,0.39)(0.68,0.22)(0.79,-0.01)(0.83,-0.24)(0.79,-0.46)(0.68,-0.65)(0.5,-0.82)(0.27,-0.94)(0,-0.99)(-0.27,-0.97)(-0.52,-0.9)(-0.72,-0.78)(-0.86,-0.6)(-0.96,-0.4)(-1,-0.15) (nan,nan)
(0,-0.5)(-0.21,-0.48)(-0.49,-0.39)(-0.68,-0.22)(-0.79,0.01)(-0.83,0.24)(-0.79,0.46)(-0.68,0.65)(-0.5,0.82)(-0.27,0.94)(0,0.99)(0.27,0.97)(0.52,0.9)(0.72,0.78)(0.86,0.6)(0.96,0.4)(1,0.15) (nan,nan)
(-0.9,0.3)(-0.85,0.55)(-0.72,0.76)(-0.52,0.93)(-0.25,1.05)(0,1.09)(0.3,1.07)(0.58,0.99)(0.8,0.83)(0.95,0.6)(1.02,0.35) (nan,nan)
(0.9,-0.3)(0.85,-0.55)(0.72,-0.76)(0.52,-0.93)(0.25,-1.05)(0,-1.09)(-0.3,-1.07)(-0.58,-0.99)(-0.8,-0.83)(-0.95,-0.6)(-1.02,-0.35)};
\addplot[blue, only marks, mark=*, mark size=1.2pt] coordinates {(0,0)};
% ---------------- limit cycle ----------------
\addplot[red, line width=14pt, mark=none] coordinates {(0,1.23)(0.2,1.22)(0.4,1.19)(0.6,1.15)(0.75,1.11)(0.87,1.06)(0.97,0.99)(1.05,0.9)(1.1,0.8)(1.13,0.68)(1.15,0.57)(1.14,0.45)(1.12,0.32)(1.09,0.18)(1.05,0.05)(1.01,-0.07)(0.97,-0.2)(0.92,-0.34)(0.86,-0.48)(0.8,-0.6)(0.72,-0.72)(0.63,-0.83)(0.54,-0.93)(0.43,-1.03)(0.3,-1.12)(0.15,-1.19)(0,-1.23)(-0.2,-1.22)(-0.4,-1.19)(-0.6,-1.15)(-0.75,-1.11)(-0.87,-1.06)(-0.97,-0.99)(-1.05,-0.9)(-1.1,-0.8)(-1.13,-0.68)(-1.15,-0.57)(-1.15,-0.45)(-1.13,-0.32)(-1.11,-0.18)(-1.08,-0.05)(-1.05,0.07)(-1.02,0.18)(-0.99,0.3)(-0.96,0.43)(-0.92,0.56)(-0.86,0.68)(-0.78,0.79)(-0.68,0.9)(-0.56,1)(-0.43,1.09)(-0.29,1.16)(-0.15,1.21)(0,1.23)(0.2,1.22)};
\addplot[red!70!black, only marks, mark=o, mark size=5pt, line width=0.5pt] coordinates {(0,1.23)(0.1,1.225)(0.2,1.22)(0.3,1.205)(0.4,1.19)(0.5,1.17)(0.6,1.15)(0.68,1.13)(0.75,1.11)(0.81,1.085)(0.87,1.06)(0.92,1.03)(0.97,0.99)(1.01,0.95)(1.05,0.9)(1.08,0.85)(1.1,0.8)(1.12,0.74)(1.13,0.68)(1.14,0.62)(1.15,0.57)(1.145,0.51)(1.14,0.45)(1.13,0.38)(1.12,0.32)(1.1,0.25)(1.09,0.18)(1.07,0.11)(1.05,0.05)(1.03,-0.01)(1.01,-0.07)(0.99,-0.13)(0.97,-0.2)(0.945,-0.27)(0.92,-0.34)(0.89,-0.41)(0.86,-0.48)(0.83,-0.54)(0.8,-0.6)(0.76,-0.66)(0.72,-0.72)(0.68,-0.78)(0.63,-0.83)(0.59,-0.88)(0.54,-0.93)(0.49,-0.98)(0.43,-1.03)(0.37,-1.08)(0.3,-1.12)(0.23,-1.16)(0.15,-1.19)(0.08,-1.21)(0,-1.23)(-0.1,-1.225)(-0.2,-1.22)(-0.3,-1.205)(-0.4,-1.19)(-0.5,-1.17)(-0.6,-1.15)(-0.68,-1.13)(-0.75,-1.11)(-0.81,-1.085)(-0.87,-1.06)(-0.92,-1.03)(-0.97,-0.99)(-1.01,-0.95)(-1.05,-0.9)(-1.08,-0.85)(-1.1,-0.8)(-1.12,-0.74)(-1.13,-0.68)(-1.14,-0.62)(-1.15,-0.57)(-1.15,-0.51)(-1.15,-0.45)(-1.14,-0.38)(-1.13,-0.32)(-1.12,-0.25)(-1.11,-0.18)(-1.095,-0.11)(-1.08,-0.05)(-1.065,0.01)(-1.05,0.07)(-1.035,0.12)(-1.02,0.18)(-1.005,0.24)(-0.99,0.3)(-0.975,0.36)(-0.96,0.43)(-0.94,0.5)(-0.92,0.56)(-0.89,0.62)(-0.86,0.68)(-0.82,0.74)(-0.78,0.79)(-0.73,0.85)(-0.68,0.9)(-0.62,0.95)(-0.56,1)(-0.5,1.05)(-0.43,1.09)(-0.36,1.13)(-0.29,1.16)(-0.22,1.19)(-0.15,1.21)(-0.07,1.225)};
\end{axis}
\pgfresetboundingbox
\path[use as bounding box] ($(current axis.south west)+(-79pt,-62pt)$) rectangle ($(current axis.north east)+(3pt,47pt)$);
\end{tikzpicture}
\end{document}
